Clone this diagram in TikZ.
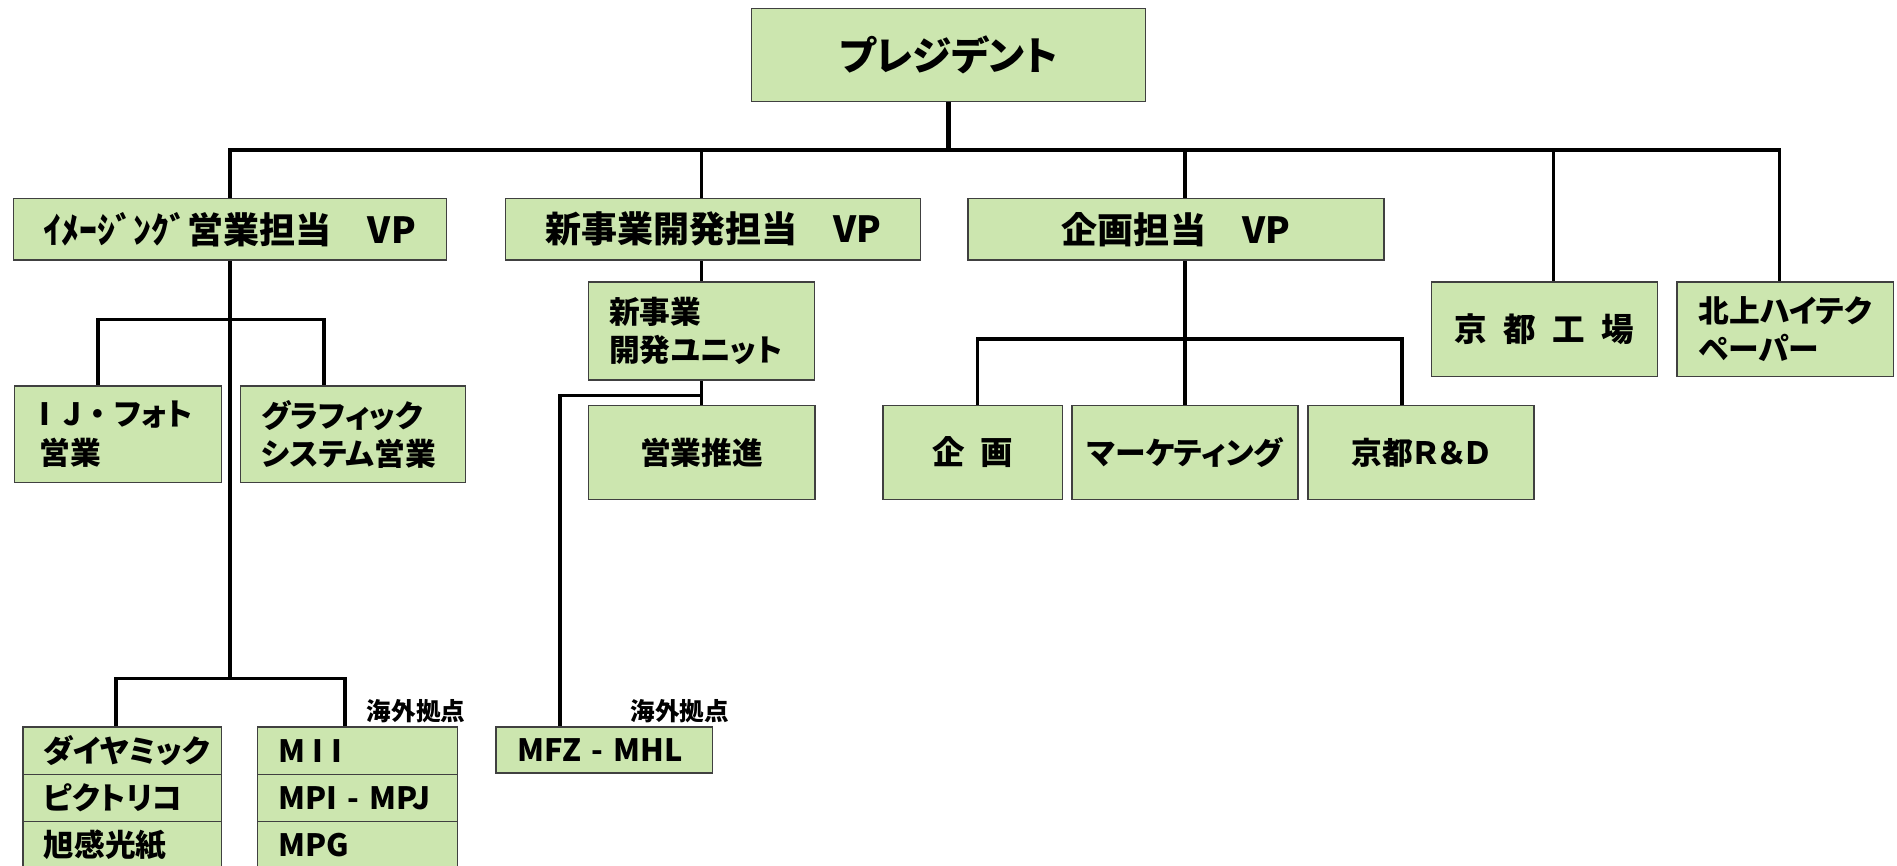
\documentclass[tikz,border=0pt]{standalone}
\usepackage{fontspec}
\setmainfont{Noto Sans CJK JP}[RawFeature=+palt]
\usetikzlibrary{positioning,calc,backgrounds}
\definecolor{boxgreen}{RGB}{204,230,175}
\tikzset{orgbox/.style={draw=black!75,line width=0.8pt,fill=boxgreen,inner sep=0pt,outer sep=0pt,
    align=center,font=\bfseries\fontsize{17.5}{22}\selectfont}}
\tikzset{bigbox/.style={orgbox,font=\bfseries\fontsize{20.5}{24}\selectfont}}
\tikzset{leftbox/.style={orgbox,align=left,inner xsep=0.41cm}}
\tikzset{note/.style={inner sep=0pt,font=\bfseries\fontsize{14}{16}\selectfont}}
\tikzset{link/.style={line width=2pt},trunk/.style={line width=3.2pt}}

\begin{document}
\begin{tikzpicture}[x=0.0242cm,y=-0.0242cm]
    \useasboundingbox (0,0) rectangle (1568,715);
    \clip (0,0) rectangle (1568,715);
    % top level
    \node[bigbox,font=\bfseries\fontsize{22.5}{26}\selectfont,minimum width=326*0.0242cm,minimum height=77*0.0242cm] (pres) at (784,45.5) {プレジデント};
    \node[bigbox,minimum width=358*0.0242cm,minimum height=51*0.0242cm] (vpimg) at (190,189.5) {ｲﾒｰｼﾞﾝｸﾞ営業担当　VP};
    \node[bigbox,minimum width=343*0.0242cm,minimum height=51*0.0242cm] (vpnew) at (589.5,189.5) {新事業開発担当　VP};
    \node[bigbox,minimum width=344*0.0242cm,minimum height=51*0.0242cm] (vpplan) at (972,189.5) {企画担当　VP};
    \node[orgbox,font=\bfseries\fontsize{18.5}{22}\selectfont,minimum width=187*0.0242cm,minimum height=78*0.0242cm] (kyf) at (1276.5,272) {京\enspace 都\enspace 工\enspace 場};
    \node[leftbox,text width=3.46cm,inner xsep=0.436cm,minimum height=78*0.0242cm] (kita) at (1475.5,272) {北上ハイテク\\ペーパー};
    % imaging sales
    \node[leftbox,text width=3.12cm,inner xsep=0.508cm,minimum height=80*0.0242cm] (ij) at (97.5,359) {I\kern7pt J\kern5pt・\kern5pt フォト\\営業};
    \node[leftbox,text width=3.68cm,minimum height=80*0.0242cm] (gra) at (292,359) {グラフィック\\システム営業};
    \node[leftbox,text width=3.146cm,minimum height=39*0.0242cm] (dai) at (101,620.5) {ダイヤミック};
    \node[leftbox,text width=3.146cm,minimum height=39*0.0242cm] (pic) [below=0pt of dai] {ピクトリコ};
    \node[leftbox,text width=3.146cm,minimum height=39*0.0242cm] (asa) [below=0pt of pic] {旭感光紙};
    \node[leftbox,text width=3.17cm,minimum height=39*0.0242cm] (mii) at (295.5,620.5) {M\kern4pt I\kern5pt I};
    \node[leftbox,text width=3.17cm,minimum height=39*0.0242cm] (mpi) [below=0pt of mii] {MPI - MPJ};
    \node[leftbox,text width=3.17cm,minimum height=39*0.0242cm] (mpg) [below=0pt of mpi] {MPG};
    \node[note] (abroad1) at (344,588) {海外拠点};
    % new business
    \node[leftbox,text width=3.70cm,minimum height=81*0.0242cm] (unit) at (580,273.5) {新事業\\開発ユニット};
    \node[orgbox,minimum width=187*0.0242cm,minimum height=78*0.0242cm] (promo) at (580,374) {営業推進};
    \node[leftbox,text width=3.46cm,inner xsep=0.436cm,minimum height=38*0.0242cm] (mfz) at (499.5,620) {MFZ - MHL};
    \node[note] (abroad2) at (562,588) {海外拠点};
    % planning
    \node[orgbox,font=\bfseries\fontsize{18.5}{22}\selectfont,minimum width=148*0.0242cm,minimum height=78*0.0242cm] (kik) at (804,374) {企\enspace 画};
    \node[orgbox,minimum width=187*0.0242cm,minimum height=78*0.0242cm] (mkt) at (979.5,374) {マーケティング};
    \node[orgbox,minimum width=187*0.0242cm,minimum height=78*0.0242cm] (kyrd) at (1174.5,374) {京都Ｒ＆Ｄ};
    % connectors
    \coordinate (bus) at (784,124);
    \coordinate (imgsplit) at (190,264);
    \coordinate (imgfoot) at (190,561);
    \coordinate (unitsplit) at (580,327);
    \coordinate (plansplit) at (979.5,280);
    \begin{scope}[on background layer]
      \draw[trunk] (pres.south) -- (bus);
      \draw[link] (vpimg.north) |- (bus) -| ($(kita.north)+(-4.5,0)$);
      \draw[link] (unit.north) -- (unit.north |- bus);
      \draw[link] (mkt.north) -- (mkt.north |- bus);
      \draw[link] ($(kyf.north)+(7.5,0)$) coordinate (kyftop) -- (kyftop |- bus);
      \draw[link] (vpimg.south) -- (imgfoot);
      \draw[link] ($(ij.north)+(-16.5,0)$) |- (imgsplit) -| ($(gra.north)+(-24,0)$);
      \draw[link] ($(dai.north)+(-5,0)$) |- (imgfoot) -| ($(mii.north)+(-10.5,0)$);
      \draw[link] (unit.south) -- (promo.north);
      \draw[link] ($(mfz.north)+(-36.5,0)$) |- (unitsplit);
      \draw[link] ($(kik.north)+(4,0)$) |- (plansplit) -| ($(kyrd.north)+(-15.5,0)$);
    \end{scope}
\end{tikzpicture}
\end{document}
